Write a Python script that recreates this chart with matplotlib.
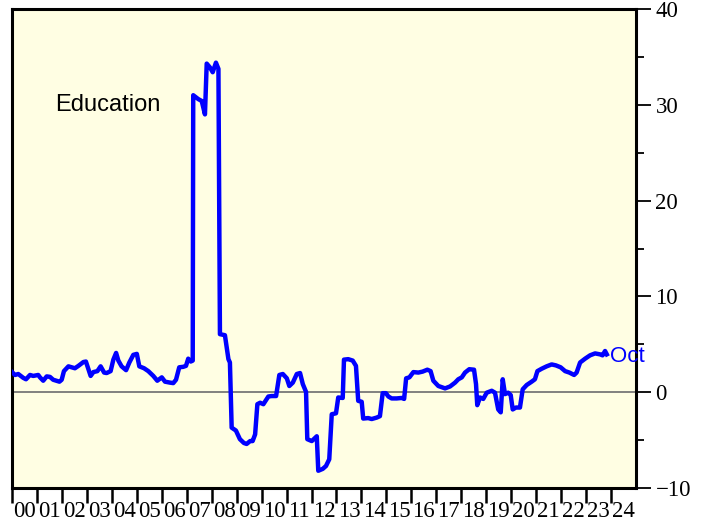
import numpy as np
import matplotlib
matplotlib.use('Agg')
import matplotlib.pyplot as plt
from matplotlib.ticker import MultipleLocator, FixedLocator, NullFormatter

# values (fractional year, percent)
dates = [2000.00, 2000.12, 2000.25, 2000.45, 2000.56, 2000.72, 2000.85, 2001.05,
         2001.12, 2001.25, 2001.39, 2001.52, 2001.65, 2001.90, 2001.99, 2002.08,
         2002.26, 2002.39, 2002.52, 2002.66, 2002.86, 2002.96, 2003.06, 2003.15,
         2003.26, 2003.42, 2003.55, 2003.69, 2003.79, 2003.95, 2004.06, 2004.17,
         2004.26, 2004.39, 2004.57, 2004.70, 2004.86, 2005.00, 2005.10, 2005.29,
         2005.46, 2005.66, 2005.82, 2006.00, 2006.13, 2006.33, 2006.46, 2006.57,
         2006.70, 2006.86, 2006.97, 2007.06, 2007.16, 2007.24, 2007.26, 2007.46,
         2007.60, 2007.73, 2007.80, 2007.93, 2008.04, 2008.17, 2008.27, 2008.33,
         2008.53, 2008.67, 2008.73, 2008.80, 2008.97, 2009.13, 2009.29, 2009.40,
         2009.54, 2009.64, 2009.74, 2009.83, 2009.94, 2010.07, 2010.27, 2010.40,
         2010.58, 2010.71, 2010.85, 2011.01, 2011.11, 2011.25, 2011.41, 2011.54,
         2011.65, 2011.78, 2011.83, 2012.01, 2012.21, 2012.27, 2012.45, 2012.58,
         2012.71, 2012.81, 2012.98, 2013.07, 2013.25, 2013.30, 2013.47, 2013.65,
         2013.78, 2013.87, 2014.01, 2014.07, 2014.27, 2014.41, 2014.61, 2014.74,
         2014.85, 2014.98, 2015.08, 2015.21, 2015.41, 2015.61, 2015.71, 2015.79,
         2015.92, 2016.08, 2016.28, 2016.45, 2016.64, 2016.77, 2016.88, 2017.08,
         2017.35, 2017.55, 2017.75, 2017.88, 2018.02, 2018.15, 2018.32, 2018.51,
         2018.59, 2018.64, 2018.75, 2018.88, 2019.02, 2019.22, 2019.35, 2019.48,
         2019.58, 2019.66, 2019.75, 2019.88, 2019.98, 2020.06, 2020.19, 2020.35,
         2020.46, 2020.62, 2020.82, 2020.95, 2021.05, 2021.22, 2021.42, 2021.62,
         2021.79, 2021.98, 2022.16, 2022.33, 2022.52, 2022.62, 2022.76, 2022.96,
         2023.16, 2023.36, 2023.56, 2023.66, 2023.76, 2023.83]
values = [2.1, 1.8, 1.9, 1.5, 1.35, 1.8, 1.7, 1.8,
          1.55, 1.2, 1.65, 1.6, 1.3, 1.1, 1.3, 2.2,
          2.7, 2.6, 2.5, 2.75, 3.15, 3.2, 2.4, 1.7,
          2.1, 2.2, 2.7, 2.05, 2.0, 2.2, 3.4, 4.1,
          3.3, 2.7, 2.3, 3.1, 3.9, 4.0, 2.7, 2.5,
          2.2, 1.7, 1.2, 1.55, 1.1, 1.0, 0.95, 1.3,
          2.6, 2.65, 2.75, 3.5, 3.2, 3.3, 31.0, 30.6,
          30.4, 29.0, 34.3, 33.9, 33.4, 34.4, 33.75, 6.06,
          5.95, 3.45, 3.1, -3.7, -4.0, -4.9, -5.3, -5.4,
          -5.1, -5.1, -4.4, -1.25, -1.1, -1.25, -0.45, -0.4,
          -0.4, 1.8, 1.9, 1.45, 0.65, 1.0, 1.9, 2.0,
          0.85, 0.03, -4.9, -5.1, -4.6, -8.2, -8.0, -7.7,
          -7.0, -2.3, -2.2, -0.55, -0.6, 3.4, 3.45, 3.3,
          2.75, -0.9, -1.0, -2.75, -2.7, -2.8, -2.65, -2.5,
          -0.1, -0.1, -0.45, -0.65, -0.65, -0.6, -0.7, 1.45,
          1.55, 2.1, 2.05, 2.15, 2.35, 2.2, 1.2, 0.65,
          0.4, 0.6, 1.0, 1.35, 1.55, 2.05, 2.4, 2.35,
          0.85, -1.35, -0.55, -0.7, -0.05, 0.15, -0.05, -1.8,
          -2.1, 1.35, -0.2, -0.05, -0.3, -1.8, -1.6, -1.6,
          0.3, 0.75, 1.1, 1.35, 2.2, 2.45, 2.7, 2.9,
          2.8, 2.6, 2.2, 2.05, 1.8, 2.05, 3.1, 3.5,
          3.85, 4.05, 3.95, 3.85, 4.3, 3.95]

years = np.arange(2000, 2025)
year_labels = ['{:02d}'.format(y % 100) for y in years]
title = 'Education'
last_label = 'Oct'

serif = ['Liberation Serif', 'DejaVu Serif']
sans = ['Liberation Sans', 'DejaVu Sans']

fig = plt.figure(figsize=(7.03, 5.23), dpi=100)
ax = fig.add_axes([0.0171, 0.0669, 0.8876, 0.9159])
ax.set_facecolor('#fffee3')

ax.axhline(0, color='#777777', lw=1.3, zorder=1)
ax.plot(dates, values, color='#0000ff', lw=3.2, solid_joinstyle='round', zorder=3)

ax.set_xlim(2000, 2025)
ax.set_ylim(-10, 40)

for s in ax.spines.values():
    s.set_linewidth(2.2)
    s.set_color('black')

# right-hand value axis
ax.yaxis.tick_right()
ax.yaxis.set_major_locator(MultipleLocator(10))
ax.yaxis.set_minor_locator(MultipleLocator(5))
ax.tick_params(axis='y', which='major', direction='out', length=11, width=1.3,
               pad=3, labelsize=16.5)
ax.tick_params(axis='y', which='minor', direction='out', length=6, width=1.3)
for lab in ax.get_yticklabels():
    lab.set_family(serif)

# year boundaries as ticks, labels at mid-year
ax.xaxis.set_major_locator(FixedLocator(years))
ax.xaxis.set_major_formatter(NullFormatter())
ax.xaxis.set_minor_locator(FixedLocator(years + 0.5))
ax.set_xticklabels(year_labels, minor=True)
ax.tick_params(axis='x', which='major', direction='out', length=11, width=1.8)
ax.tick_params(axis='x', which='minor', length=0, pad=9.5, labelsize=16.5)
for lab in ax.get_xticklabels(minor=True):
    lab.set_family(serif)

ax.text(0.069, 0.80, title, transform=ax.transAxes, fontsize=17,
        family=sans, ha='left', va='center')
ax.annotate(last_label, xy=(dates[-1], values[-1]), xytext=(2, -1.5),
            textcoords='offset points', color='#0000ff', fontsize=16,
            family=sans, ha='left', va='center')

fig.savefig('out.png', dpi=100, facecolor='white')
